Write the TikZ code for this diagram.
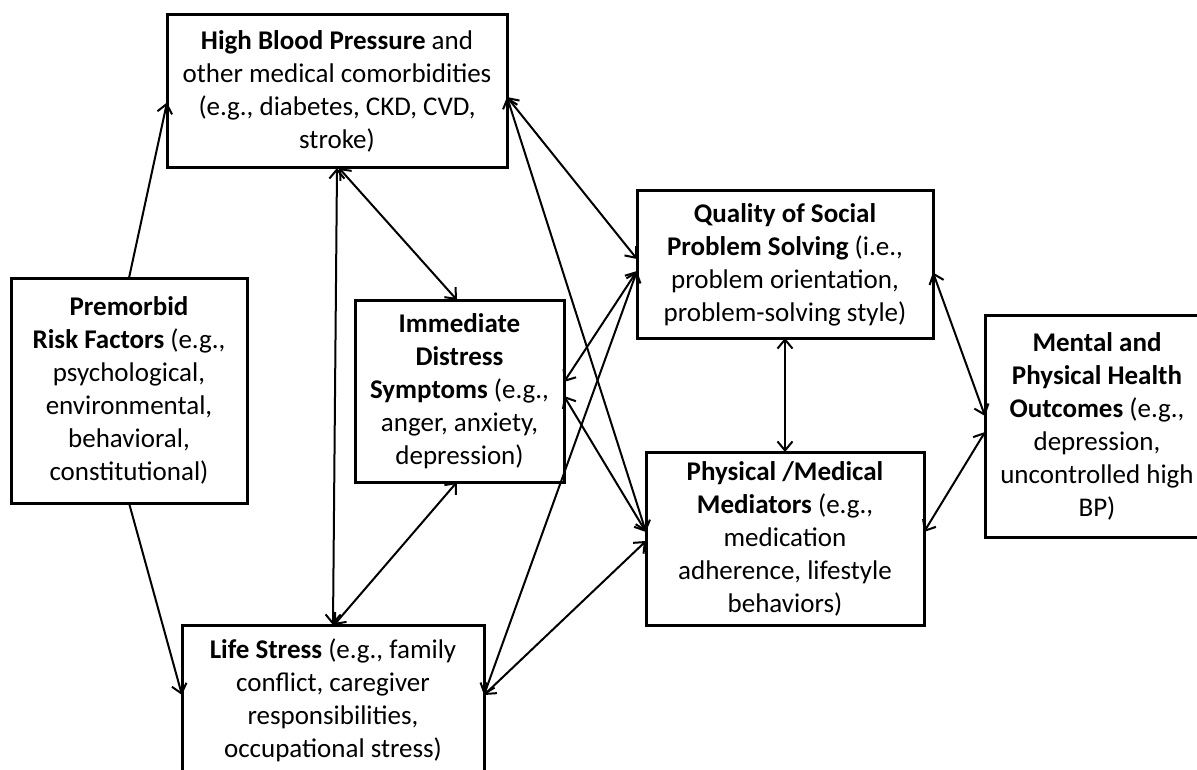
\documentclass[tikz,border=0pt]{standalone}
\usepackage{fontspec}
\setmainfont{Carlito}
\usetikzlibrary{arrows.meta,calc}
\begin{document}
\begin{tikzpicture}[x=1pt,y=-1pt,
  box/.style={draw, line width=3pt, align=center, inner sep=0pt, outer sep=0pt,
    font=\fontsize{27}{33}\selectfont},
  barb/.tip={Straight Barb[length=9pt,width=15pt]},
  link/.style={line width=2pt, barb-barb},
  onelink/.style={line width=2pt, -barb}]
\useasboundingbox (0,0) rectangle (1197,770);

\node[box, minimum width=340pt, minimum height=153pt] (hbp) at (337,91.5)
  {\textbf{High Blood Pressure} and\\other medical comorbidities\\(e.g., diabetes, CKD, CVD,\\stroke)};
\node[box, minimum width=236pt, minimum height=225pt] (pre) at (129,390.5)
  {\textbf{Premorbid}\\\textbf{Risk Factors} (e.g.,\\psychological,\\environmental,\\behavioral,\\constitutional)};
\node[box, minimum width=209pt, minimum height=182pt] (imm) at (459.5,391)
  {\textbf{Immediate}\\\textbf{Distress}\\\textbf{Symptoms} (e.g.,\\anger, anxiety,\\depression)};
\node[box, minimum width=296pt, minimum height=147pt] (qual) at (785,264.5)
  {\textbf{Quality of Social}\\\textbf{Problem Solving} (i.e.,\\problem orientation,\\problem-solving style)};
\node[box, minimum width=278pt, minimum height=173pt] (phys) at (785,538.5)
  {\textbf{Physical /Medical}\\\textbf{Mediators} (e.g.,\\medication\\adherence, lifestyle\\behaviors)};
\node[box, minimum width=224pt, minimum height=222pt] (ment) at (1097,426)
  {\textbf{Mental and}\\\textbf{Physical Health}\\\textbf{Outcomes} (e.g.,\\depression,\\uncontrolled high\\BP)};
\node[box, minimum width=302pt, minimum height=150pt] (life) at (333,700)
  {\textbf{Life Stress} (e.g., family\\conflict, caregiver\\responsibilities,\\occupational stress)};

% one-way links from premorbid factors
\draw[onelink] (pre.north) -- ($(hbp.west)+(0,11)$);
\draw[onelink] (pre.south) -- ($(life.west)+(0,-5)$);

% two-way links
\draw[link] (hbp.south) -- (life.north);
\draw[link] ($(hbp.south)+(2,0)$) -- ($(imm.north)+(-2.5,0)$);
\draw[link] ($(hbp.east)+(0,5.5)$) -- ($(qual.west)+(0,-5.5)$);
\draw[link] ($(hbp.east)+(0,5.5)$) -- ($(phys.west)+(0,-6.5)$);
\draw[link] ($(imm.east)+(0,-9)$) -- ($(qual.west)+(0,6.5)$);
\draw[link] ($(imm.east)+(0,5)$) -- ($(phys.west)+(0,-6.5)$);
\draw[link] ($(imm.south)+(-2.5,0)$) -- ($(life.north)+(1,0)$);
\draw[link] ($(life.east)+(0,-5)$) -- ($(qual.west)+(0,6.5)$);
\draw[link] ($(life.east)+(0,-5)$) -- ($(phys.west)+(0,2.5)$);
\draw[link] (qual.south) -- (phys.north);
\draw[link] ($(qual.east)+(0,8)$) -- ($(ment.west)+(0,-10)$);
\draw[link] ($(phys.east)+(0,-6.5)$) -- ($(ment.west)+(0,6)$);
\end{tikzpicture}
\end{document}
